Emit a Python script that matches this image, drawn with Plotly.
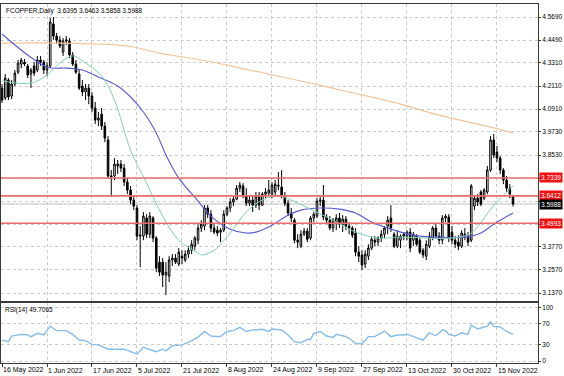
import plotly.graph_objects as go

chart_title = "FCOPPER,Daily  3.6395 3.6463 3.5858 3.5988"
rsi_title = "RSI(14) 49.7065"

date_labels = ["16 May 2022", "1 Jun 2022", "17 Jun 2022", "5 Jul 2022", "21 Jul 2022",
               "8 Aug 2022", "24 Aug 2022", "9 Sep 2022", "27 Sep 2022", "13 Oct 2022",
               "30 Oct 2022", "15 Nov 2022"]
bars_per_label = 14

opens = [4.200, 4.149, 4.242, 4.159, 4.221, 4.283, 4.325, 4.335, 4.315, 4.273,
         4.315, 4.294, 4.346, 4.335, 4.294, 4.315, 4.533, 4.470, 4.450, 4.387,
         4.444, 4.444, 4.372, 4.325, 4.273, 4.211, 4.180, 4.200, 4.159, 4.097,
         4.034, 4.065, 4.003, 3.931, 3.744, 3.744, 3.796, 3.806, 3.785, 3.713,
         3.671, 3.619, 3.578, 3.432, 3.432, 3.526, 3.442, 3.526, 3.422, 3.297,
         3.297, 3.230, 3.225, 3.308, 3.318, 3.287, 3.328, 3.308, 3.339, 3.359,
         3.380, 3.411, 3.474, 3.484, 3.578, 3.546, 3.474, 3.463, 3.453, 3.463,
         3.546, 3.578, 3.609, 3.624, 3.681, 3.692, 3.640, 3.603, 3.619, 3.593,
         3.640, 3.593, 3.650, 3.655, 3.650, 3.661, 3.697, 3.687, 3.640, 3.603,
         3.552, 3.515, 3.411, 3.380, 3.442, 3.458, 3.422, 3.526, 3.536, 3.614,
         3.619, 3.531, 3.515, 3.474, 3.505, 3.526, 3.494, 3.520, 3.484, 3.474,
         3.448, 3.349, 3.334, 3.287, 3.328, 3.370, 3.411, 3.401, 3.422, 3.442,
         3.484, 3.526, 3.442, 3.380, 3.411, 3.432, 3.432, 3.453, 3.411, 3.432,
         3.411, 3.359, 3.328, 3.380, 3.422, 3.474, 3.432, 3.411, 3.526, 3.531,
         3.453, 3.411, 3.401, 3.380, 3.442, 3.432, 3.411, 3.588, 3.629, 3.661,
         3.629, 3.661, 3.775, 3.931, 3.868, 3.837, 3.775, 3.723, 3.681, 3.6395]
highs = [4.221, 4.273, 4.252, 4.242, 4.294, 4.346, 4.356, 4.351, 4.325, 4.304,
         4.335, 4.367, 4.367, 4.346, 4.335, 4.564, 4.569, 4.486, 4.470, 4.460,
         4.470, 4.460, 4.387, 4.346, 4.294, 4.242, 4.221, 4.221, 4.180, 4.128,
         4.076, 4.097, 4.024, 3.951, 3.775, 3.837, 3.827, 3.827, 3.806, 3.733,
         3.692, 3.640, 3.593, 3.484, 3.557, 3.546, 3.557, 3.536, 3.432, 3.328,
         3.318, 3.297, 3.328, 3.339, 3.339, 3.370, 3.359, 3.359, 3.380, 3.411,
         3.432, 3.494, 3.515, 3.593, 3.593, 3.567, 3.494, 3.484, 3.474, 3.567,
         3.588, 3.629, 3.640, 3.697, 3.713, 3.707, 3.681, 3.640, 3.640, 3.661,
         3.661, 3.661, 3.681, 3.723, 3.713, 3.723, 3.765, 3.775, 3.661, 3.619,
         3.578, 3.526, 3.442, 3.463, 3.474, 3.474, 3.536, 3.557, 3.629, 3.640,
         3.697, 3.546, 3.536, 3.526, 3.546, 3.552, 3.541, 3.536, 3.505, 3.484,
         3.474, 3.380, 3.359, 3.359, 3.390, 3.432, 3.432, 3.432, 3.463, 3.484,
         3.536, 3.593, 3.453, 3.463, 3.442, 3.453, 3.463, 3.474, 3.453, 3.442,
         3.422, 3.370, 3.411, 3.453, 3.484, 3.494, 3.453, 3.541, 3.546, 3.546,
         3.484, 3.432, 3.437, 3.463, 3.474, 3.453, 3.702, 3.645, 3.650, 3.671,
         3.681, 3.796, 3.951, 3.962, 3.900, 3.848, 3.785, 3.744, 3.702, 3.6463]
lows = [4.123, 4.138, 4.138, 4.143, 4.211, 4.273, 4.304, 4.315, 4.252, 4.200,
        4.263, 4.283, 4.315, 4.273, 4.263, 4.304, 4.450, 4.429, 4.408, 4.367,
        4.424, 4.356, 4.315, 4.273, 4.190, 4.159, 4.138, 4.117, 4.076, 4.014,
        4.003, 3.983, 3.920, 3.733, 3.635, 3.723, 3.754, 3.765, 3.692, 3.650,
        3.598, 3.567, 3.411, 3.271, 3.411, 3.422, 3.422, 3.401, 3.245, 3.225,
        3.168, 3.126, 3.194, 3.277, 3.287, 3.277, 3.287, 3.297, 3.318, 3.339,
        3.359, 3.390, 3.453, 3.463, 3.526, 3.453, 3.442, 3.432, 3.401, 3.453,
        3.536, 3.557, 3.588, 3.619, 3.661, 3.629, 3.588, 3.588, 3.557, 3.578,
        3.567, 3.588, 3.629, 3.640, 3.629, 3.640, 3.671, 3.629, 3.588, 3.536,
        3.505, 3.396, 3.370, 3.370, 3.432, 3.401, 3.411, 3.505, 3.526, 3.588,
        3.515, 3.494, 3.463, 3.453, 3.463, 3.474, 3.453, 3.463, 3.442, 3.422,
        3.328, 3.297, 3.256, 3.266, 3.308, 3.359, 3.380, 3.380, 3.401, 3.422,
        3.442, 3.453, 3.370, 3.370, 3.370, 3.411, 3.411, 3.349, 3.380, 3.380,
        3.339, 3.318, 3.308, 3.370, 3.411, 3.422, 3.390, 3.390, 3.505, 3.401,
        3.390, 3.370, 3.359, 3.370, 3.411, 3.380, 3.401, 3.567, 3.588, 3.588,
        3.619, 3.650, 3.765, 3.837, 3.816, 3.754, 3.702, 3.661, 3.629, 3.5858]
closes = [4.138, 4.252, 4.154, 4.221, 4.278, 4.330, 4.346, 4.325, 4.268, 4.294,
          4.278, 4.346, 4.335, 4.294, 4.315, 4.543, 4.470, 4.450, 4.418, 4.444,
          4.450, 4.372, 4.325, 4.283, 4.200, 4.180, 4.200, 4.159, 4.097, 4.034,
          4.045, 4.003, 3.941, 3.744, 3.739, 3.806, 3.806, 3.785, 3.713, 3.671,
          3.619, 3.588, 3.432, 3.437, 3.536, 3.442, 3.536, 3.422, 3.266, 3.245,
          3.230, 3.245, 3.308, 3.318, 3.297, 3.349, 3.318, 3.339, 3.359, 3.390,
          3.422, 3.474, 3.494, 3.578, 3.546, 3.474, 3.453, 3.448, 3.463, 3.546,
          3.578, 3.609, 3.624, 3.681, 3.697, 3.640, 3.603, 3.619, 3.593, 3.640,
          3.593, 3.650, 3.661, 3.671, 3.697, 3.702, 3.692, 3.640, 3.603, 3.552,
          3.526, 3.411, 3.401, 3.442, 3.458, 3.416, 3.526, 3.546, 3.614, 3.619,
          3.531, 3.515, 3.474, 3.515, 3.526, 3.494, 3.520, 3.484, 3.474, 3.437,
          3.349, 3.328, 3.282, 3.339, 3.370, 3.416, 3.401, 3.422, 3.442, 3.474,
          3.515, 3.474, 3.380, 3.432, 3.432, 3.442, 3.453, 3.370, 3.442, 3.390,
          3.349, 3.334, 3.390, 3.432, 3.474, 3.432, 3.411, 3.526, 3.536, 3.422,
          3.411, 3.390, 3.380, 3.448, 3.432, 3.401, 3.692, 3.629, 3.609, 3.598,
          3.671, 3.775, 3.931, 3.853, 3.837, 3.775, 3.723, 3.681, 3.650, 3.5988]

# moving averages (bar index, price)
ma_fast_idx = [0, 9, 14, 18, 22, 26, 31, 35, 40, 45, 50, 55, 61, 62, 66, 71, 76, 81, 86,
               94, 104, 110, 117, 124, 140, 146, 150, 153, 157, 159]
ma_fast_val = [4.237, 4.226, 4.268, 4.330, 4.367, 4.330, 4.263, 4.138, 3.879, 3.707,
               3.536, 3.411, 3.344, 3.334, 3.359, 3.448, 3.557, 3.619, 3.640,
               3.588, 3.505, 3.453, 3.422, 3.427, 3.422, 3.448, 3.526, 3.593, 3.661, 3.692]
ma_mid_idx = [0, 14, 20, 25, 30, 36, 40, 44, 47, 49, 51, 55, 61, 65, 71, 76, 79, 84, 89,
              93, 99, 105, 110, 115, 123, 130, 136, 144, 149, 153, 159]
ma_mid_val = [4.481, 4.310, 4.304, 4.294, 4.258, 4.211, 4.154, 4.076, 3.998, 3.931,
              3.853, 3.733, 3.614, 3.536, 3.468, 3.448, 3.453, 3.489, 3.541, 3.567,
              3.578, 3.572, 3.552, 3.505, 3.458, 3.432, 3.427, 3.427, 3.448, 3.494, 3.552]
ma_slow_idx = [0, 18, 30, 40, 49, 62, 77, 93, 108, 124, 136, 152, 159]
ma_slow_val = [4.434, 4.434, 4.429, 4.416, 4.382, 4.346, 4.294, 4.237, 4.180, 4.117,
               4.060, 3.998, 3.967]

rsi_idx = [0, 2, 3, 6, 8, 9, 11, 13, 15, 17, 20, 22, 24, 26, 28, 30, 33, 35, 38, 40,
           42, 44, 47, 48, 50, 51, 53, 56, 58, 61, 63, 65, 68, 70, 72, 74, 76, 78, 81,
           83, 84, 87, 89, 91, 93, 95, 96, 97, 99, 101, 103, 104, 107, 108, 110, 112,
           114, 116, 119, 121, 123, 125, 126, 128, 131, 133, 135, 137, 138, 139, 141,
           143, 145, 146, 148, 149, 151, 152, 153, 155, 157, 159]
rsi_val = [39, 36, 46.5, 49.5, 49, 45, 51.6, 48.7, 65, 56.5, 56.5, 49.6, 39, 38, 31, 30,
           22, 22.5, 22, 17.4, 13, 25.5, 20.5, 17.4, 22, 19, 28.5, 30, 34.5, 44.5, 55,
           46.5, 45.4, 55, 56.5, 62.7, 55, 57.7, 59, 55, 59.6, 57.7, 48.4, 36, 34, 40.4,
           40, 51, 55, 46.5, 44, 49.7, 45.4, 42.3, 33, 31.7, 45.4, 45.4, 55.8, 45.4,
           48.4, 48.4, 50, 45.4, 39, 52.5, 47, 57.7, 56.5, 49.6, 46.5, 52.5, 49.6, 67,
           59.6, 61.5, 65, 73, 64.6, 63.3, 55, 49.7065]

levels = [3.7339, 3.6412, 3.4993]
price_ticks = [4.5690, 4.4490, 4.3310, 4.2110, 4.0910, 3.9730, 3.8530, 3.7330, 3.6130,
               3.4930, 3.3770, 3.2570, 3.1370]
price_tick_text = ["4.5690", "4.4490", "4.3310", "4.2110", "4.0910", "3.9730", "3.8530",
                   "", "", "", "3.3770", "3.2570", "3.1370"]
rsi_ticks = [0, 30, 70, 100]

x = list(range(len(closes)))
label_pos = [i * bars_per_label for i in range(len(date_labels))]

FONT = "Liberation Sans"
GRID = "#c9c9c9"
FRAME = "#3a3a3a"

fig = go.Figure()
fig.add_trace(go.Candlestick(
    x=x, open=opens, high=highs, low=lows, close=closes,
    xaxis="x2", yaxis="y",
    increasing=dict(line=dict(color="black", width=1), fillcolor="white"),
    decreasing=dict(line=dict(color="black", width=1), fillcolor="black"),
    whiskerwidth=0, hoverinfo="skip", showlegend=False))
fig.add_trace(go.Scatter(x=ma_slow_idx, y=ma_slow_val, xaxis="x2", yaxis="y", mode="lines",
                         line=dict(color="#f3c49c", width=1.2, shape="spline"),
                         hoverinfo="skip", showlegend=False))
fig.add_trace(go.Scatter(x=ma_mid_idx, y=ma_mid_val, xaxis="x2", yaxis="y", mode="lines",
                         line=dict(color="#5a5ad0", width=1.1, shape="spline"),
                         hoverinfo="skip", showlegend=False))
fig.add_trace(go.Scatter(x=ma_fast_idx, y=ma_fast_val, xaxis="x2", yaxis="y", mode="lines",
                         line=dict(color="#7fd0b0", width=1, shape="spline"),
                         hoverinfo="skip", showlegend=False))
fig.add_trace(go.Scatter(x=rsi_idx, y=rsi_val, xaxis="x", yaxis="y2", mode="lines",
                         line=dict(color="#86bdea", width=1.4),
                         hoverinfo="skip", showlegend=False))

shapes = []
for lv in levels:
    shapes.append(dict(type="line", xref="x2 domain", x0=0, x1=1, yref="y", y0=lv, y1=lv,
                       line=dict(color="#ea6b6b", width=1.6), layer="above"))
shapes.append(dict(type="line", xref="x2 domain", x0=0, x1=1, yref="y",
                   y0=closes[-1], y1=closes[-1], line=dict(color="#bdbdbd", width=1),
                   layer="below"))

annotations = []
for lv in levels:
    annotations.append(dict(x=1, xref="paper", xanchor="left", xshift=1, y=lv, yref="y",
                            yanchor="middle", text=f"{lv:.4f}", showarrow=False,
                            bgcolor="#f01010", borderpad=1,
                            font=dict(family=FONT, size=6.5, color="white")))
annotations.append(dict(x=1, xref="paper", xanchor="left", xshift=1, y=closes[-1], yref="y",
                        yanchor="middle", text=f"{closes[-1]:.4f}", showarrow=False,
                        bgcolor="black", borderpad=1,
                        font=dict(family=FONT, size=6.5, color="white")))
for pos, lab in zip(label_pos, date_labels):
    annotations.append(dict(x=pos, xref="x", xanchor="left", xshift=-1, y=0, yref="paper",
                            yanchor="middle", yshift=-7, text=lab, showarrow=False,
                            font=dict(family=FONT, size=7, color="black")))
annotations.append(dict(x=0, xref="paper", xanchor="left", xshift=3, y=1, yref="paper",
                        yanchor="top", yshift=-1, text=chart_title, showarrow=False,
                        font=dict(family=FONT, size=6.5, color="black")))
annotations.append(dict(x=0, xref="paper", xanchor="left", xshift=2, y=0.167, yref="paper",
                        yanchor="top", yshift=-1, text=rsi_title, showarrow=False,
                        font=dict(family=FONT, size=6.5, color="black")))

xr = [-0.311, 166.77]
common_x = dict(range=xr, tickvals=label_pos, ticktext=[""] * len(label_pos),
                showgrid=True, gridcolor=GRID, griddash="dot", gridwidth=1,
                zeroline=False, showline=True, linecolor=FRAME, linewidth=1, mirror=True,
                fixedrange=True, automargin=False)

fig.update_layout(
    width=564, height=376,
    margin=dict(l=1, r=26, t=4, b=13, autoexpand=False),
    paper_bgcolor="white", plot_bgcolor="white",
    font=dict(family=FONT, size=7, color="black"),
    hovermode=False,
    xaxis=dict(domain=[0, 1], anchor="y2", ticks="outside", ticklen=3, tickcolor=FRAME,
               **common_x),
    xaxis2=dict(domain=[0, 1], anchor="y", matches="x", ticks="", rangeslider=dict(visible=False),
                **common_x),
    yaxis=dict(domain=[0.1727, 1], side="right", range=[3.0955, 4.6365],
               tickvals=price_ticks, ticktext=price_tick_text, ticks="outside", ticklen=2,
               tickcolor=FRAME, showgrid=True, gridcolor=GRID, griddash="dot", zeroline=False,
               showline=True, linecolor=FRAME, linewidth=1, mirror=True, fixedrange=True,
               automargin=False, tickfont=dict(family=FONT, size=6.5)),
    yaxis2=dict(domain=[0, 0.1671], side="right", range=[-3.7, 108],
                tickvals=rsi_ticks, ticktext=[str(t) for t in rsi_ticks], ticks="outside",
                ticklen=2, tickcolor=FRAME, showgrid=True, gridcolor=GRID, griddash="dot",
                zeroline=False, showline=True, linecolor=FRAME, linewidth=1, mirror=True,
                fixedrange=True, automargin=False, tickfont=dict(family=FONT, size=6.5)),
    shapes=shapes,
    annotations=annotations,
)

fig.write_html("out.html", config={"displayModeBar": False, "staticPlot": True},
               post_script="document.body.style.margin='0';document.body.style.overflow='hidden';")
